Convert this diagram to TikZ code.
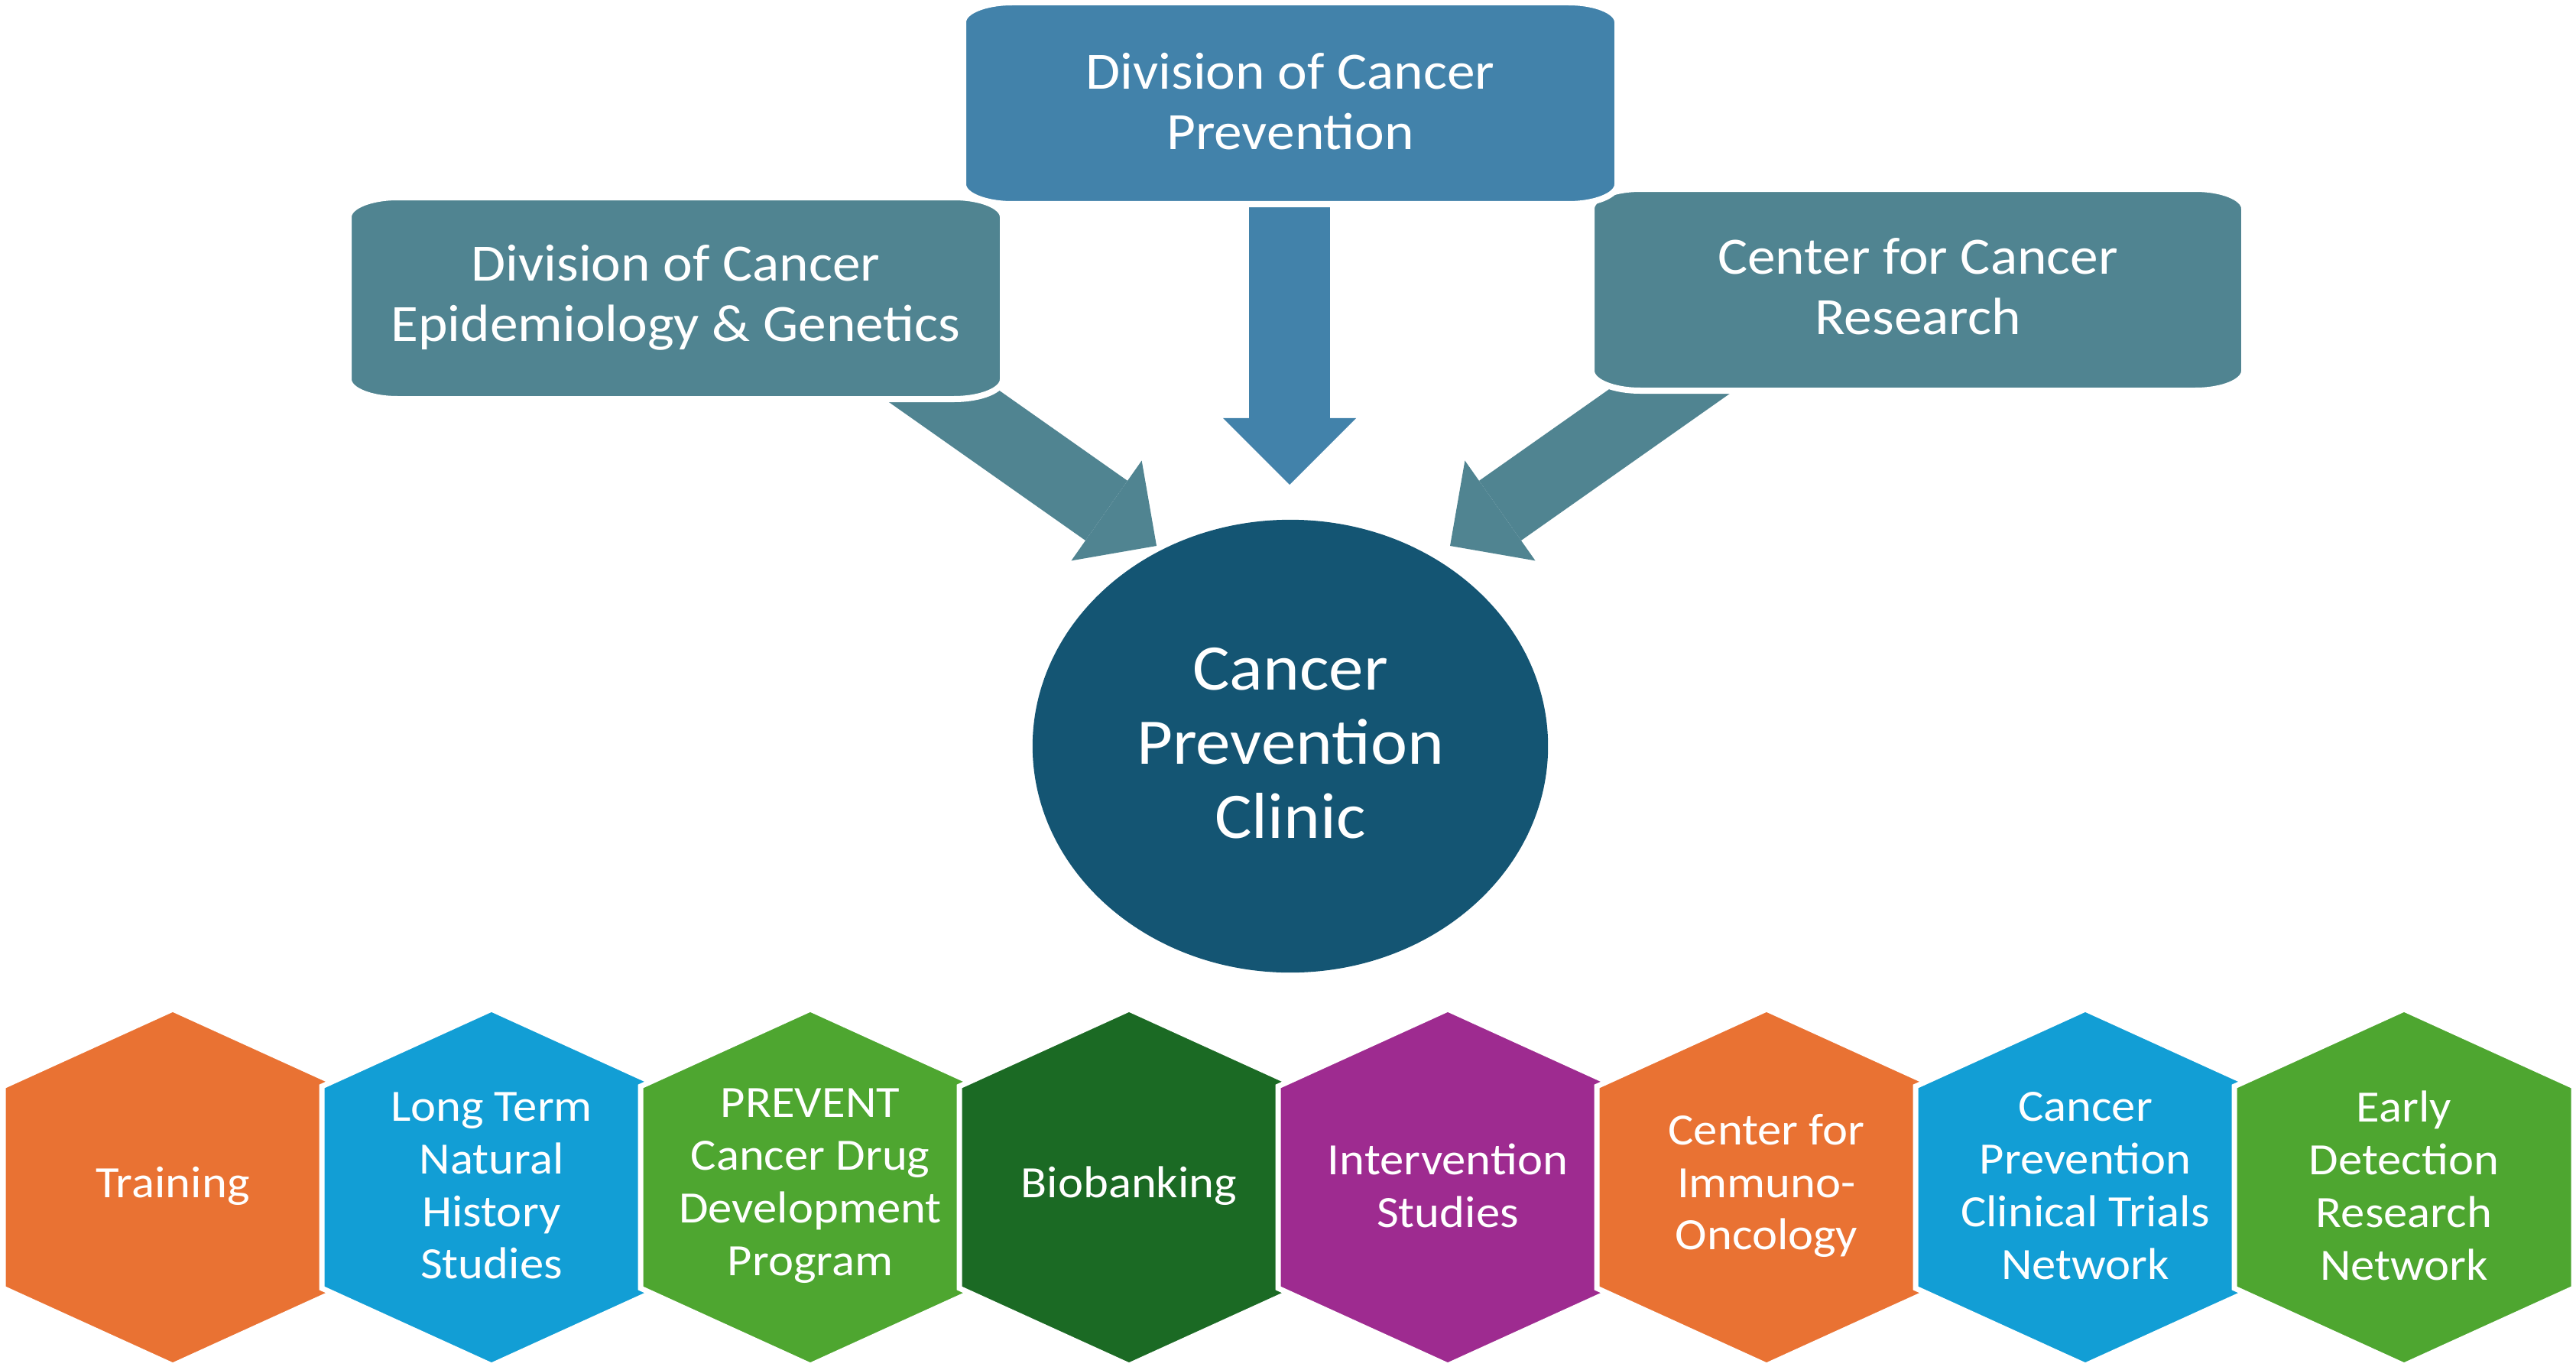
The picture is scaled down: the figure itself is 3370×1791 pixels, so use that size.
\documentclass[tikz,border=0pt]{standalone}
\usepackage{fontspec}
\setmainfont{Carlito}[FakeStretch=1.07]
\usepackage{tikz}
\usetikzlibrary{positioning, arrows.meta, shapes.geometric, calc}

\definecolor{topblue}{RGB}{66,130,170}
\definecolor{topteal}{RGB}{80,132,145}
\definecolor{clinicblue}{RGB}{20,85,115}
\definecolor{hexorange}{RGB}{233,114,51}
\definecolor{hexblue}{RGB}{18,158,213}
\definecolor{hexgreen}{RGB}{78,166,48}
\definecolor{hexdark}{RGB}{27,106,36}
\definecolor{hexpurple}{RGB}{158,43,144}

% boite a coins arrondis : x1, y1, x2, y2, couleur
\newcommand{\divbox}[5]{%
  \filldraw[fill=#5, draw=white, line width=0.08cm]
    (#1+64,#2) -- (#3-64,#2) arc[start angle=270, end angle=360, x radius=64, y radius=26]
    -- (#3,#4-26) arc[start angle=0, end angle=90, x radius=64, y radius=26]
    -- (#1+64,#4) arc[start angle=90, end angle=180, x radius=64, y radius=26]
    -- (#1,#2+26) arc[start angle=180, end angle=270, x radius=64, y radius=26] -- cycle;}

\begin{document}
\begin{tikzpicture}[x=0.01cm, y=-0.01cm,
    divtext/.style={text=white, align=center, font=\fontsize{19.5pt}{22.5pt}\selectfont},
    clinicnode/.style={ellipse, fill=clinicblue, inner sep=0pt, minimum width=6.74cm, minimum height=5.92cm,
        text=white, align=center, font=\fontsize{24.2pt}{27.6pt}\selectfont},
    hextext/.style={text=white, align=center, font=\fontsize{16.65pt}{19.6pt}\selectfont},
    hexcell/.style={draw=white, line width=0.07cm},
    bigarrow/.style={topblue, line width=1.05cm, -{Triangle[length=0.87cm, width=1.74cm, line width=0pt]}},
    sidearrow/.style={topteal, line width=0.955cm, -{Triangle[length=0.8cm, width=1.6cm, line width=0pt]}}]
    \useasboundingbox (0,0) rectangle (3370,1791);

    % Fleches
    \coordinate (dcp out) at (1687,250);
    \coordinate (cpc top) at (1687,634);
    \coordinate (dceg out) at (1145,455);
    \coordinate (cpc west) at (1513,714);
    \coordinate (ccr out) at (2265,455);
    \coordinate (cpc east) at (1897,714);
    \draw[sidearrow] (dceg out) -- (cpc west);
    \draw[sidearrow] (ccr out) -- (cpc east);
    \draw[bigarrow] (dcp out) -- (cpc top);

    % Divisions
    \divbox{456}{258}{1312}{522}{topteal}
    \node[divtext] (dceg) at (884,389) {Division of Cancer\\Epidemiology \& Genetics};
    \divbox{2082}{247}{2936}{511}{topteal}
    \node[divtext] (ccr) at (2509,375) {Center for Cancer\\Research};
    \divbox{1260}{3}{2116}{267}{topblue}
    \node[divtext] (dcp) at (1688,133) {Division of Cancer\\Prevention};

    % Clinique
    \node[clinicnode] (cpc) at (1688,976) {};
    \node[text=white, align=center, font=\fontsize{24.2pt}{27.6pt}\selectfont] (cpc text) at (1688,972) {Cancer\\Prevention\\Clinic};

    % Hexagones
    \foreach \name/\col/\txt [count=\i from 0] in {
        train/hexorange/{Training},
        natural/hexblue/{Long Term\\Natural\\History\\Studies},
        prevent/hexgreen/{PREVENT\\Cancer Drug\\Development\\Program},
        biobank/hexdark/{Biobanking},
        interv/hexpurple/{Intervention\\Studies},
        immuno/hexorange/{Center for\\Immuno-\\Oncology},
        trials/hexblue/{Cancer\\Prevention\\Clinical Trials\\Network},
        early/hexgreen/{Early\\Detection\\Research\\Network}}{
        \pgfmathsetmacro{\cx}{226+417*\i}
        \filldraw[hexcell, fill=\col] (\cx,1320) -- (\cx+222,1421) -- (\cx+222,1685) -- (\cx,1786)
            -- (\cx-222,1685) -- (\cx-222,1421) -- cycle;
        \node[hextext] (\name) at (\cx,1551) {\txt};
    }
\end{tikzpicture}
\end{document}
